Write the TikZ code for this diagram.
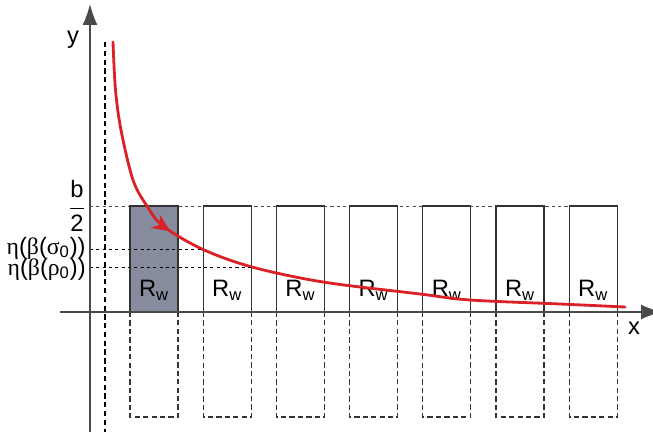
\documentclass[tikz,border=0pt]{standalone}
\usepackage{fontspec}
\setmainfont{Liberation Sans}
\newfontfamily\grk{Liberation Serif}
\usetikzlibrary{arrows.meta,decorations.markings}
\definecolor{axisgray}{HTML}{4A4A4A}
\definecolor{boxfill}{HTML}{868B9D}
\definecolor{curvered}{HTML}{DA2128}
\tikzset{
  axisline/.style={draw=axisgray, line width=0.9pt},
  wbox/.style={draw=black!80, line width=0.7pt},
  ghostbox/.style={draw=black!80, line width=0.7pt, dash pattern=on 3pt off 1.8pt},
  guide/.style={draw=black, line width=0.55pt, dash pattern=on 1.8pt off 1.8pt},
  redcurve/.style={draw=curvered, line width=1.6pt, line cap=round},
  lbl/.style={font=\fontsize{13.5}{15}\selectfont, inner sep=0pt},
}
\begin{document}
\begin{tikzpicture}[x=0.02cm,y=-0.02cm]
\useasboundingbox (0,0) rectangle (653,432);
% top guide
\draw[guide, draw=black!70] (90,206) -- (618,206);
% dashed vertical
\draw[draw=black, line width=0.7pt, dash pattern=on 3pt off 2pt] (105,42) -- (105,432);
% boxes
\foreach \i in {0,...,6}{
  \pgfmathsetmacro{\xl}{130+73.2*\i}
  \pgfmathsetmacro{\xr}{\xl+48}
  \ifnum\i=0
    \filldraw[wbox, fill=boxfill] (\xl,206) rectangle (\xr,312);
  \else
    \draw[wbox] (\xl,206) rectangle (\xr,312);
  \fi
  \draw[ghostbox] (\xl,312) rectangle (\xr,417);
  \node[lbl] (rw\i) at ({\xl+24},290) {R\textsubscript{w}};
}
% curve
\draw[redcurve, postaction={decorate, decoration={markings,
   mark=at position 0.305 with {\arrow[curvered]{Stealth[length=3.6mm,width=3.2mm,inset=1.2mm]}}}}]
  plot[smooth, tension=0.55] coordinates {(113,42) (115.5,90) (121,130) (133,180) (147,206) (163,226) (202,249) (252,267) (323,282) (420,294) (470,300) (560,304) (625,307)};
% level guides
\coordinate (s0) at (202,249.5);
\coordinate (r0) at (252,267);
\coordinate (ys) at (90,249.5);
\coordinate (yr) at (90,267);
\draw[guide] (ys) -- (s0);
\draw[guide] (yr) -- (r0);
% axes
\begin{scope}
\clip (0,0) rectangle (653,432);
\coordinate (xs) at (60,312);
\coordinate (xe) at (662,312);
\coordinate (ys0) at (90,432);
\coordinate (ye) at (90,4);
\draw[axisline, -{Latex[length=4.2mm,width=3mm]}] (xs) -- (xe);
\draw[axisline, -{Latex[length=4.2mm,width=3mm]}] (ys0) -- (ye);
\end{scope}
% labels
\node[lbl] (ylab) at (73,40) {y};
\node[lbl] (xlab) at (634,328) {x};
\node[lbl, anchor=east] (b2) at (86,206) {$\displaystyle\frac{\mbox{b}}{\mbox{2}}$};
\node[lbl, anchor=east] (sig) at (86,248) {{\grk η}({\grk β}({\grk σ}\textsubscript{0}))};
\node[lbl, anchor=east] (rho) at (86,269) {{\grk η}({\grk β}({\grk ρ}\textsubscript{0}))};
\end{tikzpicture}
\end{document}
